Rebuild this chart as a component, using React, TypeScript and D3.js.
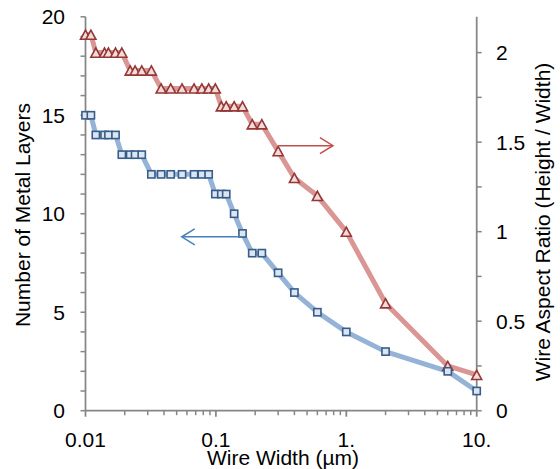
import React from "react";
import * as d3 from "d3";

const widths = [0.01, 0.011, 0.012, 0.014, 0.015, 0.017, 0.019, 0.022, 0.024, 0.027, 0.032, 0.038, 0.045, 0.055, 0.068, 0.078, 0.088, 0.099, 0.11, 0.12, 0.138, 0.16, 0.19, 0.225, 0.3, 0.4, 0.6, 1, 2, 6, 10];
const layers = [15, 15, 14, 14, 14, 14, 13, 13, 13, 13, 12, 12, 12, 12, 12, 12, 12, 11, 11, 11, 10, 9, 8, 8, 7, 6, 5, 4, 3, 2, 1];
const aspect = [2.1, 2.1, 2.0, 2.0, 2.0, 2.0, 2.0, 1.9, 1.9, 1.9, 1.9, 1.8, 1.8, 1.8, 1.8, 1.8, 1.8, 1.8, 1.7, 1.7, 1.7, 1.7, 1.6, 1.6, 1.45, 1.3, 1.2, 1.0, 0.6, 0.25, 0.2];

const xTickValues = [0.01, 0.1, 1, 10];
const xTickLabels = ["0.01", "0.1", "1.", "10."];
const leftTicks = [0, 5, 10, 15, 20];
const rightTicks = [0, 0.5, 1, 1.5, 2];
const rightTickLabels = ["0", "0.5", "1", "1.5", "2"];

// annotation arrows [x0, x1, y]
const redArrow = [0.3, 0.79, 1.48];
const blueArrow = [0.16, 0.0547, 8.83];

const W = 560, H = 469;
const L = 85.5, R = 476.7, T = 16.8, B = 410.7;

export default function App() {
  const x = d3.scaleLog().domain([0.01, 10]).range([L, R]);
  const yL = d3.scaleLinear().domain([0, 20]).range([B, T]);
  const yR = d3.scaleLinear().domain([0, 2.2]).range([B, T]);

  const blueLine = d3.line<number>().x((d, i) => x(widths[i])).y((d) => yL(d)).curve(d3.curveLinear);
  const redLine = d3.line<number>().x((d, i) => x(widths[i])).y((d) => yR(d)).curve(d3.curveLinear);

  const minorX: number[] = [];
  for (let e = -2; e < 1; e++) for (let k = 2; k <= 9; k++) minorX.push(k * Math.pow(10, e));
  const leftMinor = d3.range(0, 21, 1);
  const rightMinor = d3.range(0, 2.01, 0.25);

  const axisColor = "#868686";
  const font = "'Liberation Sans', Arial, sans-serif";
  const fs = 21;

  const tri = (cx: number, cy: number) => {
    const w = 5, h = 4.6;
    return `M${cx},${cy - h}L${cx + w},${cy + h}L${cx - w},${cy + h}Z`;
  };

  const ra0 = x(redArrow[0]), ra1 = x(redArrow[1]), ray = yR(redArrow[2]);
  const ba0 = x(blueArrow[0]), ba1 = x(blueArrow[1]), bay = yL(blueArrow[2]);

  return (
    <div style={{ position: "absolute", left: 0, top: 0 }}>
      <svg width={W} height={H} style={{ display: "block", background: "#fff" }} fontFamily={font}>
        {/* lines */}
        <path d={redLine(aspect) || ""} fill="none" stroke="#D99694" strokeWidth={5} strokeLinejoin="round" />
        <path d={blueLine(layers) || ""} fill="none" stroke="#95B3D7" strokeWidth={5} strokeLinejoin="round" />

        {/* axes */}
        <line x1={L} x2={R} y1={B} y2={B} stroke={axisColor} strokeWidth={1.75} />
        <line x1={L} x2={L} y1={T} y2={B} stroke={axisColor} strokeWidth={1.75} />
        <line x1={R} x2={R} y1={T} y2={B} stroke={axisColor} strokeWidth={1.75} />
        {minorX.map((v, i) => (
          <line key={"mx" + i} x1={x(v)} x2={x(v)} y1={B} y2={B + 4.5} stroke={axisColor} strokeWidth={1.5} />
        ))}
        {xTickValues.map((v, i) => (
          <line key={"Mx" + i} x1={x(v)} x2={x(v)} y1={B} y2={B + 6} stroke={axisColor} strokeWidth={1.75} />
        ))}
        {leftMinor.map((v, i) => (
          <line key={"ly" + i} x1={L - 5} x2={L} y1={yL(v)} y2={yL(v)} stroke={axisColor} strokeWidth={1.5} />
        ))}
        {rightMinor.map((v, i) => (
          <line key={"ry" + i} x1={R} x2={R + 5} y1={yR(v)} y2={yR(v)} stroke={axisColor} strokeWidth={1.5} />
        ))}

        {/* tick labels */}
        {xTickValues.map((v, i) => (
          <text key={"xl" + i} x={x(v)} y={447} textAnchor="middle" fontSize={fs} fill="#000">{xTickLabels[i]}</text>
        ))}
        {leftTicks.map((v, i) => (
          <text key={"ll" + i} x={65} y={yL(v)} dy="0.36em" textAnchor="end" fontSize={fs} fill="#000">{v}</text>
        ))}
        {rightTicks.map((v, i) => (
          <text key={"rl" + i} x={496} y={yR(v)} dy="0.36em" textAnchor="start" fontSize={fs} fill="#000">{rightTickLabels[i]}</text>
        ))}

        {/* axis titles */}
        <text x={283} y={465} textAnchor="middle" fontSize={fs} fill="#000">Wire Width (µm)</text>
        <text transform={`translate(22,${215}) rotate(-90)`} textAnchor="middle" dy="0.36em" fontSize={fs} fill="#000">Number of Metal Layers</text>
        <text transform={`translate(542,${222}) rotate(-90)`} textAnchor="middle" dy="0.36em" fontSize={fs} fill="#000">Wire Aspect Ratio (Height / Width)</text>

        {/* markers */}
        {aspect.map((v, i) => (
          <path key={"t" + i} d={tri(x(widths[i]), yR(v))} fill="#F2DCDB" stroke="#953735" strokeWidth={1.6} strokeLinejoin="miter" />
        ))}
        {layers.map((v, i) => (
          <rect key={"s" + i} x={x(widths[i]) - 3.6} y={yL(v) - 3.6} width={7.2} height={7.2} fill="#DCE6F2" stroke="#385D8A" strokeWidth={1.6} />
        ))}

        {/* arrows */}
        <g stroke="#C0504D" strokeWidth={1.5} fill="none">
          <line x1={ra0} x2={ra1} y1={ray} y2={ray} />
          <polyline points={`${ra1 - 13},${ray - 8} ${ra1},${ray} ${ra1 - 13},${ray + 8}`} />
        </g>
        <g stroke="#4A7EBB" strokeWidth={1.5} fill="none">
          <line x1={ba0} x2={ba1} y1={bay} y2={bay} />
          <polyline points={`${ba1 + 13},${bay - 8} ${ba1},${bay} ${ba1 + 13},${bay + 8}`} />
        </g>
      </svg>
    </div>
  );
}
